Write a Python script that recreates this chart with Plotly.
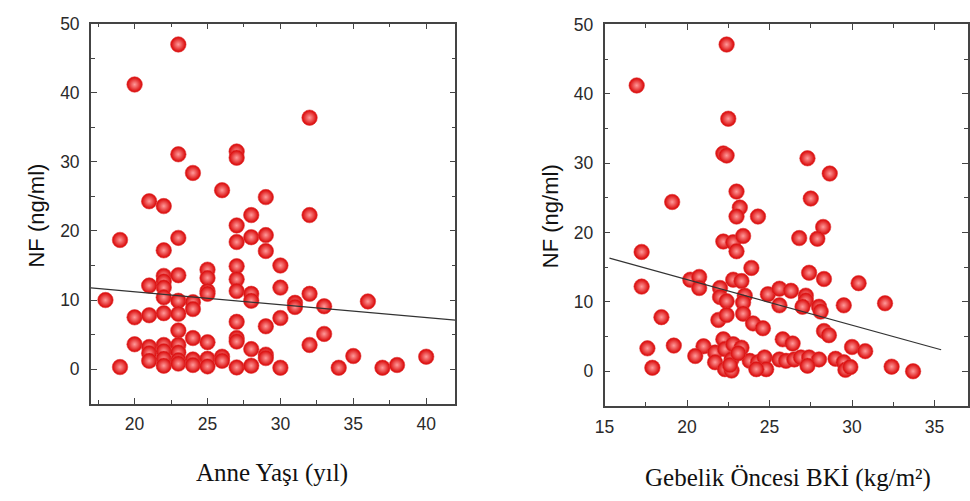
import plotly.graph_objects as go

# ---- Left panel: maternal age (years) vs NF (ng/ml) ----
age = [23, 20, 32, 23, 27, 27, 24, 26, 21, 22, 29, 28, 32, 27, 19, 27, 28, 29, 23, 22,
       29, 30, 27, 25, 25, 27, 27, 22, 22, 22, 23, 25, 25, 21, 22, 28, 28, 30, 32, 18,
       23, 24, 24, 31, 31, 33, 36, 20, 21, 22, 23, 27, 29, 30, 23, 33, 20, 21, 21, 21,
       22, 22, 22, 22, 23, 23, 23, 23, 24, 24, 24, 25, 25, 25, 26, 26, 27, 27, 27, 28,
       28, 29, 29, 30, 32, 34, 35, 37, 38, 40, 19]
nf_age = [47.0, 41.2, 36.4, 31.1, 31.5, 30.6, 28.4, 25.9, 24.3, 23.6, 24.9, 22.3, 22.3, 20.8, 18.7, 18.4, 19.1, 19.4, 19.0, 17.2,
          17.1, 15.0, 14.9, 14.4, 13.2, 13.0, 11.3, 13.5, 12.7, 11.8, 13.6, 11.3, 10.9, 12.1, 10.4, 10.9, 9.9, 11.8, 10.9, 10.0,
          9.9, 9.7, 8.7, 9.6, 9.0, 9.1, 9.8, 7.5, 7.8, 8.1, 8.0, 6.85, 6.2, 7.4, 5.6, 5.1, 3.6, 3.2, 2.3, 1.2,
          3.5, 2.6, 1.5, 0.5, 3.5, 2.4, 1.3, 0.8, 4.5, 1.4, 0.6, 3.9, 1.5, 0.4, 1.8, 1.2, 4.5, 4.0, 0.25, 2.9,
          0.5, 2.1, 1.6, 0.2, 3.5, 0.2, 1.9, 0.2, 0.6, 1.8, 0.3]
fit_age_x = [17, 42]
fit_age_y = [11.75, 7.1]

# ---- Right panel: pre-pregnancy BMI (kg/m2) vs NF (ng/ml) ----
bmi = [22.4, 16.95, 22.5, 22.2, 22.4, 27.3, 28.65, 23.0, 19.1, 27.5, 23.2, 23.0, 24.3, 28.25, 22.2, 22.8, 23.4, 23.0, 26.8, 27.9,
       17.25, 23.9, 27.4, 28.3, 30.4, 20.2, 20.74, 20.74, 22.8, 23.3, 17.25, 22.0, 22.0, 22.4, 23.5, 23.4, 24.9, 25.6, 26.3, 25.6,
       27.2, 27.2, 27.0, 28.0, 28.1, 29.5, 32.0, 21.9, 22.4, 23.4, 18.45, 24.0, 24.6, 28.3, 28.6, 22.2, 21.0, 20.5, 21.7, 21.7,
       22.3, 22.8, 23.3, 22.7, 22.3, 22.7, 23.8, 24.3, 24.7, 24.8, 24.2, 25.8, 26.4, 25.6, 26.0, 26.5, 26.9, 27.4, 28.0, 27.3,
       29.0, 17.6, 19.2, 30.0, 30.8, 17.9, 29.5, 29.6, 29.9, 32.4, 33.7, 22.6, 23.1]
nf_bmi = [47.1, 41.2, 36.4, 31.4, 31.1, 30.7, 28.5, 25.9, 24.4, 24.9, 23.6, 22.3, 22.3, 20.8, 18.7, 18.6, 19.5, 17.3, 19.2, 19.1,
          17.2, 14.9, 14.2, 13.3, 12.7, 13.2, 13.6, 12.0, 13.2, 13.0, 12.2, 12.0, 10.7, 10.1, 10.9, 9.9, 11.1, 11.9, 11.6, 9.5,
          10.9, 10.2, 9.3, 9.3, 8.6, 9.5, 9.8, 7.4, 8.1, 8.3, 7.8, 6.9, 6.2, 5.8, 5.2, 4.6, 3.6, 2.2, 2.7, 1.3,
          3.2, 3.9, 3.4, 1.7, 0.3, 0.1, 1.5, 1.3, 2.0, 0.3, 0.3, 4.6, 4.0, 1.7, 1.5, 1.7, 2.0, 2.0, 1.7, 0.8,
          1.8, 3.3, 3.7, 3.5, 2.9, 0.5, 1.3, 0.2, 0.6, 0.66, 0.0, 0.9, 2.6]
fit_bmi_x = [15.3, 35.4]
fit_bmi_y = [16.3, 3.1]

y_ticks = [0, 10, 20, 30, 40, 50]
age_ticks = [20, 25, 30, 35, 40]
bmi_ticks = [15, 20, 25, 30, 35]

y_title = "NF (ng/ml)"
age_title = "Anne Yaşı (yıl)"
bmi_title = "Gebelik Öncesi BKİ (kg/m²)"

marker = dict(size=15.5, color="#d80000",
              gradient=dict(type="radial", color="#ff9a9a"),
              line=dict(color="#e04040", width=0.6))

fig = go.Figure()
fig.add_trace(go.Scatter(x=age, y=nf_age, mode="markers", marker=marker,
                         xaxis="x", yaxis="y", showlegend=False))
fig.add_trace(go.Scatter(x=fit_age_x, y=fit_age_y, mode="lines",
                         line=dict(color="#333333", width=1.2),
                         xaxis="x", yaxis="y", showlegend=False))
fig.add_trace(go.Scatter(x=bmi, y=nf_bmi, mode="markers", marker=marker,
                         xaxis="x2", yaxis="y2", showlegend=False))
fig.add_trace(go.Scatter(x=fit_bmi_x, y=fit_bmi_y, mode="lines",
                         line=dict(color="#333333", width=1.2),
                         xaxis="x2", yaxis="y2", showlegend=False))

W, H = 970, 501
tickfont = dict(family="Liberation Sans, Arial", size=17.5, color="#2a2a2a")

def xax(domain, rng, ticks, anchor):
    return dict(domain=domain, range=rng, tickvals=ticks, ticks="inside", ticklen=6,
                tickwidth=1.2, tickcolor="#444444", showline=True, linecolor="#444444",
                linewidth=1.5, mirror="ticks", showgrid=False, zeroline=False,
                tickfont=tickfont, anchor=anchor, ticklabelstandoff=4,
                minor=dict(dtick=2.5, ticks="inside", ticklen=4, tickcolor="#444444",
                           tickwidth=1, showgrid=False))

def yax(domain, ticks, anchor):
    return dict(domain=domain, range=[-5, 50], tickvals=ticks, ticks="inside", ticklen=6,
                tickwidth=1.2, tickcolor="#444444", showline=True, linecolor="#444444",
                linewidth=1.5, mirror="ticks", showgrid=False, zeroline=False,
                tickfont=tickfont, anchor=anchor, ticklabelstandoff=6,
                minor=dict(dtick=5, ticks="inside", ticklen=4, tickcolor="#444444",
                           tickwidth=1, showgrid=False))

fig.update_layout(
    width=W, height=H,
    margin=dict(l=0, r=0, t=0, b=0),
    paper_bgcolor="white", plot_bgcolor="white",
    xaxis=xax([81.7 / W, 450 / W], [17, 42], age_ticks, "y"),
    yaxis=yax([1 - 401.7 / H, 1 - 14 / H], y_ticks, "x"),
    xaxis2=xax([600.7 / W, 967.5 / W], [15, 37], bmi_ticks, "y2"),
    yaxis2=yax([1 - 404 / H, 1 - 14.7 / H], y_ticks, "x2"),
    annotations=[
        dict(text=y_title, x=27 / W, y=1 - 210 / H, xref="paper", yref="paper",
             textangle=-90, showarrow=False, xanchor="center", yanchor="middle",
             font=dict(family="Liberation Sans, Arial", size=22, color="#111111")),
        dict(text=y_title, x=546 / W, y=1 - 210 / H, xref="paper", yref="paper",
             textangle=-90, showarrow=False, xanchor="center", yanchor="middle",
             font=dict(family="Liberation Sans, Arial", size=22, color="#111111")),
        dict(text=age_title, x=265 / W, y=1 - 472 / H, xref="paper", yref="paper",
             showarrow=False, xanchor="center", yanchor="middle",
             font=dict(family="Liberation Serif, Times New Roman", size=25, color="#111111")),
        dict(text=bmi_title, x=786 / W, y=1 - 478 / H, xref="paper", yref="paper",
             showarrow=False, xanchor="center", yanchor="middle",
             font=dict(family="Liberation Serif, Times New Roman", size=25, color="#111111")),
    ],
)

fig.write_html("out.html")
